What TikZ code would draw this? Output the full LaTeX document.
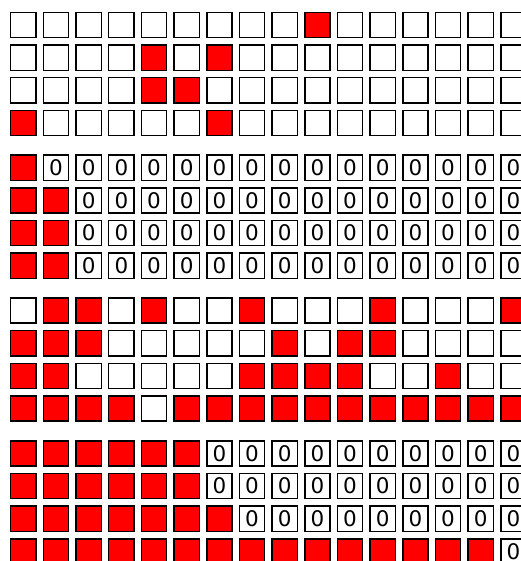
\documentclass[tikz,border=0pt]{standalone}
\usepackage{fontspec}
\setmainfont{DejaVu Sans}
\tikzset{
  cellbase/.style={draw=black, line width=1.5pt, minimum size=25.2pt, inner sep=0pt, outer sep=0pt, font=\fontsize{21.5}{22}\selectfont},
  cellw/.style={cellbase, fill=white},
  cellr/.style={cellbase, fill=red},
}
\newcommand\mkcell[4]{% #1 group, #2 row, #3 col, #4 type
  \if r#4\node[cellr] (g#1r#2c#3) at ({23.33+32.67*#3},{25+142.8*#1+32.67*#2}) {};%
  \else\if z#4\node[cellw] (g#1r#2c#3) at ({23.33+32.67*#3},{25+142.8*#1+32.67*#2}) {0};%
  \else\node[cellw] (g#1r#2c#3) at ({23.33+32.67*#3},{25+142.8*#1+32.67*#2}) {};\fi\fi}
\newcommand\cellrow[3]{\foreach[count=\cc from 0] \tt in {#3}{\mkcell{#1}{#2}{\cc}{\tt}}}
\begin{document}
\begin{tikzpicture}[x=1pt,y=-1pt]
\useasboundingbox (0,0) rectangle (520,561);
\cellrow{0}{0}{w,w,w,w,w,w,w,w,w,r,w,w,w,w,w,w}
\cellrow{0}{1}{w,w,w,w,r,w,r,w,w,w,w,w,w,w,w,w}
\cellrow{0}{2}{w,w,w,w,r,r,w,w,w,w,w,w,w,w,w,w}
\cellrow{0}{3}{r,w,w,w,w,w,r,w,w,w,w,w,w,w,w,w}
\cellrow{1}{0}{r,z,z,z,z,z,z,z,z,z,z,z,z,z,z,z}
\cellrow{1}{1}{r,r,z,z,z,z,z,z,z,z,z,z,z,z,z,z}
\cellrow{1}{2}{r,r,z,z,z,z,z,z,z,z,z,z,z,z,z,z}
\cellrow{1}{3}{r,r,z,z,z,z,z,z,z,z,z,z,z,z,z,z}
\cellrow{2}{0}{w,r,r,w,r,w,w,r,w,w,w,r,w,w,w,r}
\cellrow{2}{1}{r,r,r,w,w,w,w,w,r,w,r,r,w,w,w,w}
\cellrow{2}{2}{r,r,w,w,w,w,w,r,r,r,r,w,w,r,w,w}
\cellrow{2}{3}{r,r,r,r,w,r,r,r,r,r,r,r,r,r,r,r}
\cellrow{3}{0}{r,r,r,r,r,r,z,z,z,z,z,z,z,z,z,z}
\cellrow{3}{1}{r,r,r,r,r,r,z,z,z,z,z,z,z,z,z,z}
\cellrow{3}{2}{r,r,r,r,r,r,r,z,z,z,z,z,z,z,z,z}
\cellrow{3}{3}{r,r,r,r,r,r,r,r,r,r,r,r,r,r,r,z}
\end{tikzpicture}
\end{document}
